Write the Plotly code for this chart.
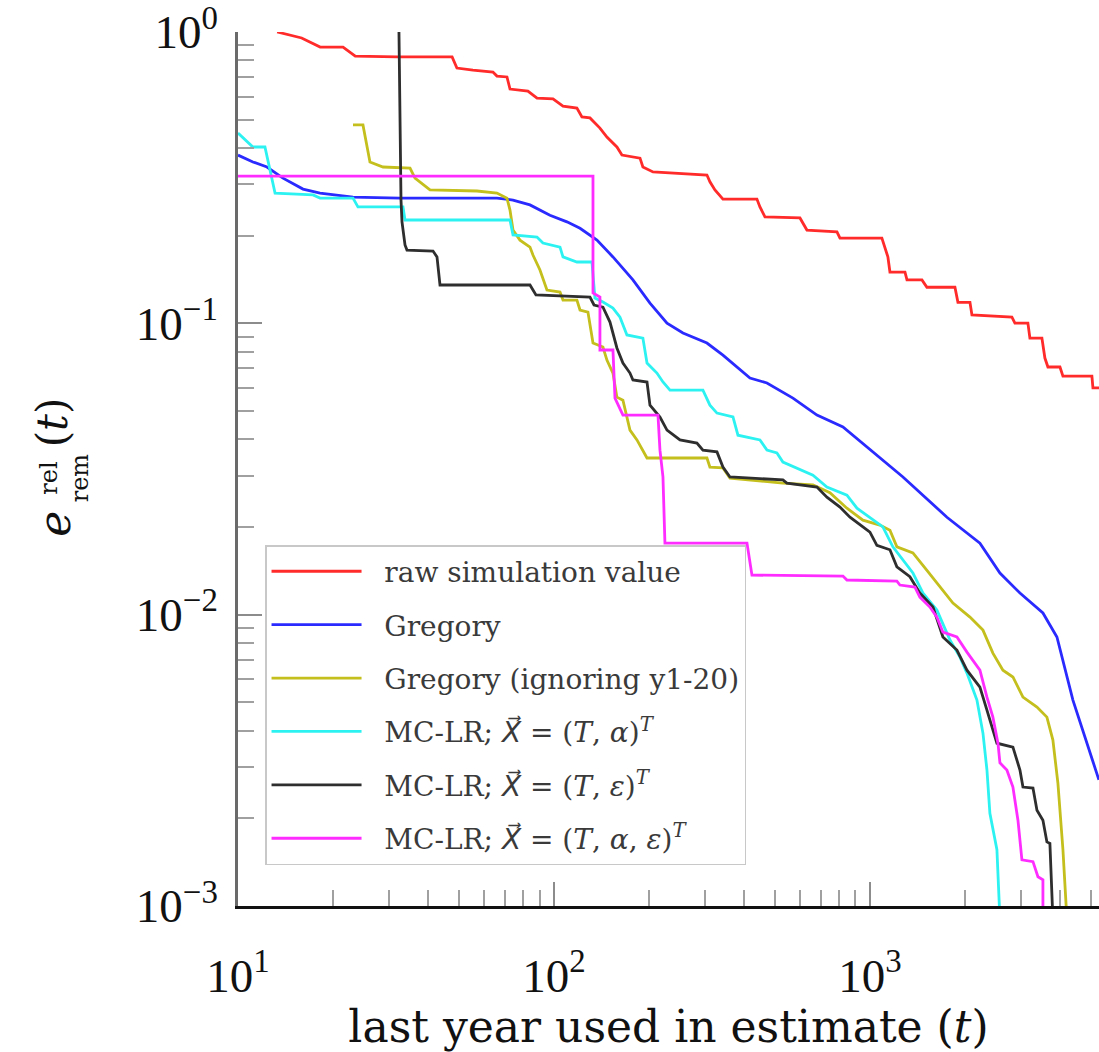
import plotly.graph_objects as go

# Remaining relative error e_rem^rel(t) vs. last year used in the estimate
raw_t = [13.3, 14.4, 15.9, 18.2, 21.5, 23.5, 31.9, 47.6, 49.3, 55.4, 64.1, 66.0, 71.0, 72.6, 82.7, 88.4,
         99.3, 106.8, 118.2, 122.6, 130.0, 139.8, 147.1, 158.2, 164.1, 187.2, 191.2, 205.8, 246.9, 304.9,
         311.6, 323.2, 342.6, 438.9, 448.6, 465.3, 600.5, 631.8, 786.4, 803.8, 1091, 1115, 1140, 1157,
         1291, 1310, 1461, 1515, 1858, 1899, 2073, 2103, 2814, 2877, 3162, 3209, 3502, 3579, 3659, 3994,
         4082, 5041, 5079, 5747]
raw_v = [1.0, 0.977, 0.954, 0.888, 0.888, 0.827, 0.821, 0.821, 0.752, 0.740, 0.729, 0.706, 0.701, 0.637,
         0.627, 0.593, 0.589, 0.557, 0.548, 0.511, 0.507, 0.468, 0.436, 0.403, 0.378, 0.369, 0.344, 0.331,
         0.328, 0.323, 0.306, 0.287, 0.267, 0.267, 0.251, 0.232, 0.230, 0.209, 0.206, 0.196, 0.196, 0.183,
         0.169, 0.150, 0.150, 0.141, 0.141, 0.133, 0.133, 0.118, 0.118, 0.1068, 0.1050, 0.1002, 0.1002,
         0.0890, 0.0890, 0.0760, 0.0708, 0.0708, 0.0659, 0.0659, 0.0600, 0.0600]

greg_t = [10, 11.15, 12.35, 13.88, 16.06, 18.18, 23.12, 32.56, 66.0, 74.19, 83.96, 97.11, 109.9, 120.9,
          136.8, 153.7, 177.8, 201.3, 227.9, 256.0, 304.9, 342.6, 417.2, 472.2, 570.6, 679.7, 821.5, 1052,
          1272, 1753, 2229, 2579, 2984, 3528, 3907, 4390, 5305]
greg_v = [0.378, 0.358, 0.344, 0.315, 0.289, 0.280, 0.271, 0.269, 0.269, 0.265, 0.255, 0.235, 0.223, 0.212,
          0.193, 0.169, 0.141, 0.1174, 0.1002, 0.0926, 0.0856, 0.0778, 0.0649, 0.0624, 0.0554, 0.0484,
          0.0441, 0.0353, 0.0297, 0.0216, 0.0176, 0.0139, 0.01186, 0.01013, 0.00838, 0.00509, 0.00271]

greg20_t = [23.12, 24.86, 26.16, 27.54, 28.77, 35.03, 36.32, 40.51, 57.05, 66.0, 71.0, 72.58, 74.19, 78.06,
            83.96, 85.81, 90.30, 95.02, 104.5, 106.8, 118.2, 120.9, 128.1, 132.9, 142.9, 147.1, 153.7, 158.2,
            165.3, 174.0, 183.1, 197.0, 304.9, 311.6, 342.6, 360.6, 530.4, 660.2, 747.0, 845.7, 950.2, 1075,
            1157, 1217, 1368, 1515, 1665, 1831, 2073, 2279, 2450, 2636, 2835, 3050, 3378, 3632, 3794, 3935,
            4082, 4202]
greg20_v = [0.4796, 0.4796, 0.358, 0.3495, 0.344, 0.3413, 0.315, 0.287, 0.2846, 0.280, 0.269, 0.2448, 0.209,
            0.193, 0.1827, 0.1716, 0.1524, 0.1301, 0.1280, 0.1202, 0.1202, 0.1111, 0.1093, 0.0856, 0.0829,
            0.0748, 0.0675, 0.0558, 0.0545, 0.0430, 0.0398, 0.0345, 0.0345, 0.0321, 0.0319, 0.0294, 0.0283,
            0.0279, 0.0262, 0.0232, 0.0211, 0.0203, 0.0195, 0.0171, 0.0163, 0.0142, 0.01244, 0.01096, 0.00981,
            0.00885, 0.00738, 0.00645, 0.00611, 0.00521, 0.00482, 0.00445, 0.00371, 0.00264, 0.00156, 0.0009]

lr_ta_t = [10, 11.15, 12.17, 13.10, 17.28, 18.18, 23.12, 23.97, 33.28, 33.77, 72.58, 74.19, 88.35, 92.29,
           104.5, 106.8, 118.2, 131.9, 134.8, 142.9, 153.7, 161.8, 170.2, 191.2, 197.0, 211.8, 221.3, 232.9,
           296.1, 311.6, 328.0, 368.6, 382.2, 448.6, 472.2, 507.8, 530.4, 600.5, 660.2, 730.9, 845.7, 909.8,
           1000, 1099, 1182, 1272, 1368, 1472, 1629, 1792, 1927, 2028, 2181, 2279, 2346, 2397, 2523, 2579]
lr_ta_v = [0.450, 0.403, 0.403, 0.280, 0.2758, 0.269, 0.269, 0.251, 0.251, 0.2263, 0.2263, 0.2010, 0.1978,
           0.1887, 0.1827, 0.169, 0.1624, 0.1624, 0.1221, 0.1183, 0.1128, 0.1050, 0.0912, 0.0890, 0.0731,
           0.0675, 0.0629, 0.0590, 0.0590, 0.0524, 0.0492, 0.0477, 0.0413, 0.0398, 0.0367, 0.0359, 0.0334,
           0.0314, 0.0301, 0.0274, 0.0257, 0.0232, 0.0216, 0.0200, 0.0171, 0.0154, 0.0139, 0.01186, 0.01037,
           0.00818, 0.00715, 0.00630, 0.00509, 0.00392, 0.00293, 0.00208, 0.00156, 0.0009]

lr_te_t = [32.32, 32.56, 32.80, 33.04, 33.77, 34.26, 41.42, 42.64, 43.58, 83.96, 87.70, 130.0, 133.9, 142.9,
           150.4, 158.2, 165.3, 174.0, 177.8, 197.0, 201.3, 216.5, 227.9, 250.5, 283.5, 296.1, 328.0, 342.6,
           360.6, 530.4, 546.0, 679.7, 730.9, 803.8, 864.5, 950.2, 1000, 1052, 1157, 1217, 1338, 1439, 1583,
           1702, 1885, 2028, 2229, 2346, 2523, 2835, 2984, 3050, 3281, 3378, 3528, 3632, 3712, 3794]
lr_te_v = [1.0, 0.3935, 0.265, 0.223, 0.1857, 0.1784, 0.1771, 0.169, 0.1354, 0.1354, 0.1251, 0.1231, 0.1156,
           0.1137, 0.1010, 0.0823, 0.0731, 0.0675, 0.0639, 0.0629, 0.0524, 0.0477, 0.0430, 0.0398, 0.0388,
           0.0367, 0.0362, 0.0321, 0.0297, 0.0290, 0.0283, 0.0274, 0.0253, 0.0234, 0.0216, 0.0200, 0.0192,
           0.0173, 0.0167, 0.0146, 0.0135, 0.01186, 0.01062, 0.00838, 0.00756, 0.00645, 0.00564, 0.00470,
           0.00362, 0.00351, 0.00293, 0.00256, 0.00254, 0.00213, 0.00197, 0.00166, 0.00164, 0.0009]

lr_tae_t = [10, 132.9, 132.9, 139.8, 139.8, 153.7, 156.0, 165.3, 213.4, 216.5, 221.3, 224.5, 408.2, 423.3,
            821.5, 845.7, 1217, 1244, 1388, 1439, 1548, 1629, 1702, 1885, 2028, 2229, 2346, 2450, 2542, 2579,
            2713, 2835, 2941, 3027, 3281, 3402, 3528, 3528]
lr_tae_v = [0.3202, 0.3202, 0.1271, 0.1231, 0.0810, 0.0810, 0.0554, 0.0484, 0.0484, 0.0367, 0.0297, 0.0176,
            0.0176, 0.01367, 0.01357, 0.01315, 0.01304, 0.01264, 0.01244, 0.01149, 0.01062, 0.00981, 0.00871,
            0.00838, 0.00744, 0.00645, 0.00521, 0.00445, 0.00362, 0.00310, 0.00293, 0.00256, 0.00197, 0.00144,
            0.00142, 0.00126, 0.00123, 0.0009]

# X with a combining arrow above, set in a face that carries the arrow glyph
VEC_X = '<span style="font-family:DejaVu Sans;font-style:italic">X\u20d7</span>'
PAD = "\u00a0\u00a0"
series_names = [
    PAD + "raw simulation value",
    PAD + "Gregory",
    PAD + "Gregory (ignoring y1-20)",
    PAD + f"MC-LR; {VEC_X} = (<i>T</i>, <i>\u03b1</i>)<sup><i>T</i></sup>",
    PAD + f"MC-LR; {VEC_X} = (<i>T</i>, <i>\u03b5</i>)<sup><i>T</i></sup>",
    PAD + f"MC-LR; {VEC_X} = (<i>T</i>, <i>\u03b1</i>, <i>\u03b5</i>)<sup><i>T</i></sup>",
]
series_colors = ["#ff2a2a", "#2a2aff", "#c4bf1c", "#2cf2f2", "#2e2e2e", "#ff2cff"]
series_t = [raw_t, greg_t, greg20_t, lr_ta_t, lr_te_t, lr_tae_t]
series_v = [raw_v, greg_v, greg20_v, lr_ta_v, lr_te_v, lr_tae_v]

x_major = [10, 100, 1000]
x_major_text = ["10<sup>1</sup>", "10<sup>2</sup>", "10<sup>3</sup>"]
x_minor = [k * 10 ** p for p in (1, 2, 3) for k in range(2, 10) if k * 10 ** p < 6000]
y_major = [0.001, 0.01, 0.1, 1]
y_major_text = ["10<sup>\u22123</sup>", "10<sup>\u22122</sup>", "10<sup>\u22121</sup>", "10<sup>0</sup>"]
y_minor = [k * 10.0 ** p for p in (-3, -2, -1) for k in range(2, 10)]

fig = go.Figure()
for i, (name, color, t, v) in enumerate(zip(series_names, series_colors, series_t, series_v)):
    fig.add_trace(go.Scatter(
        x=t, y=v, mode="lines", name=name, legendgroup=f"g{i}",
        line=dict(color=color, width=2.8),
    ))

tick_font = dict(family="Liberation Serif", size=47, color="#111")
fig.update_xaxes(
    type="log", range=[1, 3.725], automargin=False,
    tickmode="array", tickvals=x_major, ticktext=x_major_text,
    ticks="inside", ticklen=24, tickwidth=2, tickcolor="#8c8c8c",
    minor=dict(tickmode="array", tickvals=x_minor, ticks="inside", ticklen=16,
               tickwidth=2, tickcolor="#a0a0a0", showgrid=False),
    showline=True, linecolor="#111", linewidth=2.5,
    showgrid=False, zeroline=False,
    tickfont=tick_font, ticklabelstandoff=27, ticklabeloverflow="allow",
    title=dict(text="last year used in estimate (<i>t</i>)",
               font=dict(family="DejaVu Serif", size=44, color="#111"), standoff=0),
)
fig.update_yaxes(
    type="log", range=[-3, 0], automargin=False,
    tickmode="array", tickvals=y_major, ticktext=y_major_text,
    ticks="inside", ticklen=24, tickwidth=2, tickcolor="#8c8c8c",
    minor=dict(tickmode="array", tickvals=y_minor, ticks="inside", ticklen=16,
               tickwidth=2, tickcolor="#a0a0a0", showgrid=False),
    showline=True, linecolor="#6a6a6a", linewidth=2.5,
    showgrid=False, zeroline=False,
    tickfont=tick_font, ticklabelstandoff=8, ticklabeloverflow="allow",
)

# rotated y-axis label e^rel_rem(t), assembled from stacked pieces
ylab = dict(xref="paper", yref="paper", showarrow=False, textangle=-90,
            font=dict(family="DejaVu Serif", color="#111"))
fig.add_annotation(ylab, x=-0.246, y=0.437, text="<i>e</i>", font_size=44)
fig.add_annotation(ylab, x=-0.238, y=0.49, text="rel<br>rem", font_size=24)
fig.add_annotation(ylab, x=-0.246, y=0.553, text="(<i>t</i>)", font_size=42)

fig.update_layout(
    width=1099, height=1052,
    margin=dict(l=238, r=0, t=32, b=146),
    paper_bgcolor="white", plot_bgcolor="white",
    showlegend=True,
    legend=dict(
        x=0.0314, y=0.413, xanchor="left", yanchor="top",
        bgcolor="rgba(255,255,255,0.8)", bordercolor="#c8c8c8", borderwidth=1.5,
        font=dict(family="DejaVu Serif", size=28, color="#3a3a3a"),
        tracegroupgap=14, itemwidth=90,
    ),
)

fig.write_html("out.html")
